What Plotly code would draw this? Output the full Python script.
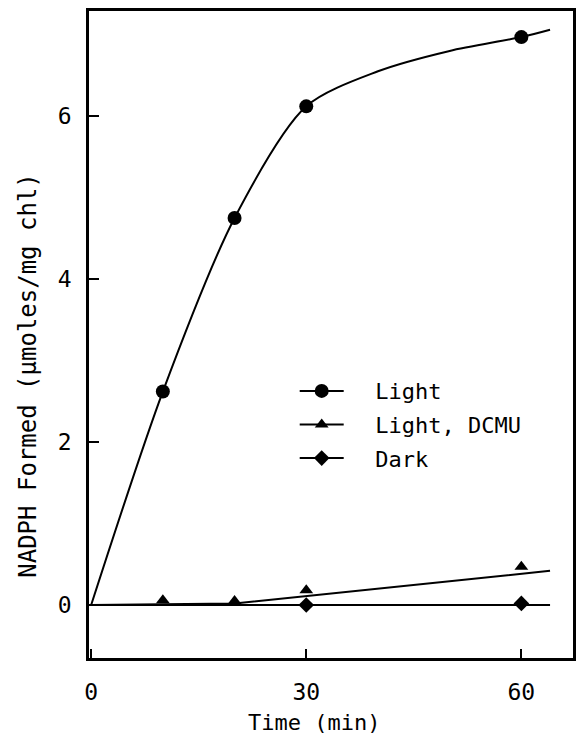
import plotly.graph_objects as go

# ---- data ----
time_light = [10, 20, 30, 60]
nadph_light = [2.62, 4.75, 6.12, 6.97]
# smooth hand-drawn curve through Light points
curve_light_x = [0, 10, 20, 30, 40, 50, 60, 64]
curve_light_y = [0, 2.62, 4.75, 6.12, 6.55, 6.8, 6.97, 7.06]

time_dcmu = [10, 20, 30, 60]
nadph_dcmu = [0.06, 0.05, 0.18, 0.47]
curve_dcmu_x = [0, 20, 64]
curve_dcmu_y = [0, 0.02, 0.42]

time_dark = [30, 60]
nadph_dark = [0.0, 0.02]
curve_dark_x = [0, 64]
curve_dark_y = [0, 0]

legend_names = ["Light", "Light, DCMU", "Dark"]
x_ticks = [0, 30, 60]
y_ticks = [0, 2, 4, 6]

FONT = "DejaVu Sans Mono"
BLACK = "black"
NBSP = "\u00a0"

fig = go.Figure()

# curves
fig.add_trace(go.Scatter(x=curve_light_x, y=curve_light_y, mode="lines",
                         line=dict(color=BLACK, width=2, shape="spline", smoothing=0.8),
                         showlegend=False, hoverinfo="skip"))
fig.add_trace(go.Scatter(x=curve_dcmu_x, y=curve_dcmu_y, mode="lines",
                         line=dict(color=BLACK, width=2),
                         showlegend=False, hoverinfo="skip"))
fig.add_trace(go.Scatter(x=curve_dark_x, y=curve_dark_y, mode="lines",
                         line=dict(color=BLACK, width=2),
                         showlegend=False, hoverinfo="skip"))

# markers
fig.add_trace(go.Scatter(x=time_light, y=nadph_light, mode="markers",
                         marker=dict(symbol="circle", size=14, color=BLACK),
                         showlegend=False))
fig.add_trace(go.Scatter(x=time_dcmu, y=nadph_dcmu, mode="markers",
                         marker=dict(symbol="triangle-up", size=12, color=BLACK),
                         showlegend=False))
fig.add_trace(go.Scatter(x=time_dark, y=nadph_dark, mode="markers",
                         marker=dict(symbol="diamond", size=12, color=BLACK),
                         showlegend=False))

# legend entries
for i, (name, sym, sz) in enumerate(zip(legend_names, ["circle", "triangle-up", "diamond"], [14, 12, 12])):
    fig.add_trace(go.Scatter(x=[None], y=[None], mode="lines+markers", name=NBSP * 2 + name,
                             legendgroup=f"g{i}",
                             line=dict(color=BLACK, width=2),
                             marker=dict(symbol=sym, size=sz, color=BLACK)))

fig.update_layout(
    width=578, height=744,
    margin=dict(l=89, r=2, t=11, b=86),
    paper_bgcolor="white", plot_bgcolor="white",
    font=dict(family=FONT, size=22, color=BLACK),
    showlegend=True,
    legend=dict(x=0.425, y=0.445, xanchor="left", yanchor="top",
                bgcolor="rgba(0,0,0,0)", font=dict(family=FONT, size=22, color=BLACK),
                itemwidth=44, tracegroupgap=2),
    xaxis=dict(range=[-0.3, 67.2], tickvals=x_ticks, ticktext=[str(v) for v in x_ticks],
               ticks="inside", ticklen=9, tickwidth=2, tickcolor=BLACK,
               showline=True, mirror=True, linewidth=2.5, linecolor=BLACK,
               showgrid=False, zeroline=False, ticklabelstandoff=12,
               tickfont=dict(family=FONT, size=23)),
    yaxis=dict(range=[-0.65, 7.29], tickvals=y_ticks, ticktext=[str(v) for v in y_ticks],
               ticks="inside", ticklen=10, tickwidth=2, tickcolor=BLACK,
               showline=True, mirror=True, linewidth=2.5, linecolor=BLACK,
               showgrid=False, zeroline=False, ticklabelstandoff=10,
               tickfont=dict(family=FONT, size=23)),
    annotations=[
        dict(text="Time (min)", xref="paper", yref="paper", x=0.464, y=-0.099,
             xanchor="center", yanchor="middle", showarrow=False,
             font=dict(family=FONT, size=22, color=BLACK)),
        dict(text="NADPH Formed (μmoles/mg chl)", xref="paper", yref="paper",
             x=-0.125, y=0.437, xanchor="center", yanchor="middle", textangle=-90,
             showarrow=False, font=dict(family=FONT, size=24, color=BLACK)),
    ],
)

fig.write_html("out.html")
